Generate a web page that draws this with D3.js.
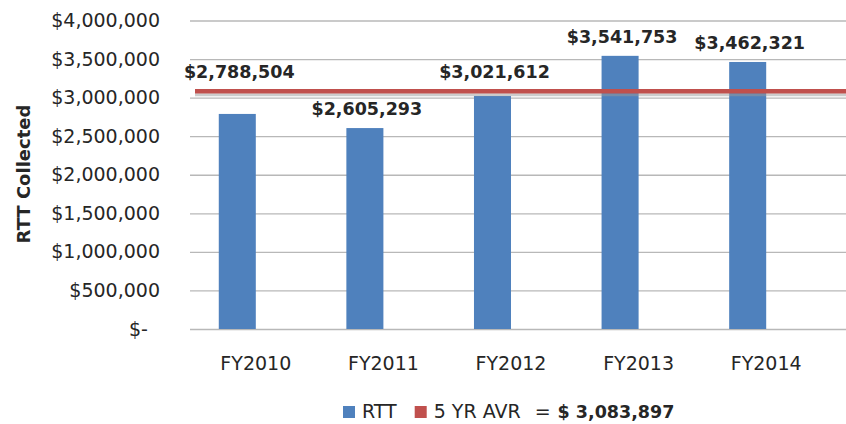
<!DOCTYPE html>
<head>
<style>
	body{
		margin: 0;
		background: white;
	}
	svg{
		display: block;
	}
	text{
		font-family: "DejaVu Sans", sans-serif;
		fill: #262626;
	}
</style>
</head>
<body>
<script src="https://cdnjs.cloudflare.com/ajax/libs/d3/7.8.5/d3.min.js" charset="utf-8"></script>
<svg width="846" height="424"></svg>
<script>
	// values
	var years = ["FY2010","FY2011","FY2012","FY2013","FY2014"];
	var rtt = [2788504, 2605293, 3021612, 3541753, 3462321];
	var seriesNames = ["RTT","5 YR AVR"];
	var yTicks = [0, 500000, 1000000, 1500000, 2000000, 2500000, 3000000, 3500000, 4000000];
	var avgValue = Math.round(d3.mean(rtt));

	var W = 846, H = 424;
	var plotL = 190, plotR = 846, plotT = 20.5, plotB = 329;
	var blue = "#4f81bd", red = "#c0504d";

	var svg = d3.select("svg");

	var y = d3.scaleLinear()
		.domain([0, 4000000])
		.range([plotB, plotT]);

	var x = d3.scaleBand()
		.domain(years)
		.range([192, 830]);

	// clustered slot: RTT bar sits left, the second (line) series keeps an empty slot
	var xs = d3.scaleBand()
		.domain(seriesNames)
		.range([0, x.bandwidth()])
		.paddingOuter(0.723);

	var money = d3.format(",");

	// y axis + gridlines
	var yAxis = d3.axisLeft(y)
		.tickValues(yTicks)
		.tickSizeInner(-(plotR - plotL))
		.tickSizeOuter(0)
		.tickPadding(30)
		.tickFormat(function(v){ return v === 0 ? "$-\u00a0\u00a0" : "$" + money(v); });

	var gy = svg.append("g")
		.attr("transform","translate(" + plotL + ",0)")
		.call(yAxis);
	gy.select(".domain").remove();
	gy.selectAll("line").attr("stroke","#b8b8b8").attr("stroke-width",1.3);
	gy.selectAll("text")
		.style("font-size","19px")
		.attr("fill","#262626");

	// bars
	svg.append("g").selectAll("rect")
		.data(rtt)
		.join("rect")
		.attr("x", function(d,i){ return x(years[i]) + xs("RTT"); })
		.attr("y", function(d){ return y(d); })
		.attr("width", xs.bandwidth())
		.attr("height", function(d){ return y(0) - y(d); })
		.attr("fill", blue);

	// average line with a soft shadow
	var avgY = y(avgValue);
	svg.append("line")
		.attr("x1",195).attr("x2",W)
		.attr("y1",avgY + 3.5).attr("y2",avgY + 3.5)
		.attr("stroke","#9a9a9a")
		.attr("stroke-opacity",0.5)
		.attr("stroke-width",3);
	svg.append("line")
		.attr("x1",195).attr("x2",W)
		.attr("y1",avgY).attr("y2",avgY)
		.attr("stroke",red)
		.attr("stroke-width",4.5);

	// data labels, lifted above the average line where they would cross it
	svg.append("g").selectAll("text")
		.data(rtt)
		.join("text")
		.attr("x", function(d,i){ return x(years[i]) + xs("RTT") + xs.bandwidth()/2 + 2; })
		.attr("y", function(d){
			var b = y(d) - 13;
			if(b + 4 > avgY - 5 && b - 14 < avgY + 5) b = avgY - 13.5;
			return b;
		})
		.attr("text-anchor","middle")
		.style("font-size","17.5px")
		.style("font-weight","bold")
		.attr("fill","#0d0d0d")
		.text(function(d){ return "$" + money(d); });

	// category labels
	svg.append("g").selectAll("text")
		.data(years)
		.join("text")
		.attr("x", function(d){ return x(d) + x.bandwidth()/2; })
		.attr("y", 370)
		.attr("text-anchor","middle")
		.style("font-size","19px")
		.text(function(d){ return d; });

	// axis title
	svg.append("text")
		.attr("transform","translate(30,174) rotate(-90)")
		.attr("text-anchor","middle")
		.style("font-size","18px")
		.style("font-weight","bold")
		.attr("fill","#0d0d0d")
		.text("RTT Collected");

	// legend
	var lg = svg.append("g");
	var lx = 343, ly = 418;
	seriesNames.forEach(function(name,i){
		lg.append("rect")
			.attr("x",lx).attr("y",ly - 12)
			.attr("width",12).attr("height",12)
			.attr("fill", i === 0 ? blue : red);
		var t = lg.append("text")
			.attr("x",lx + 19).attr("y",ly)
			.style("font-size","19px")
			.text(name);
		lx += 19 + t.node().getComputedTextLength() + 18;
	});
	lx -= 4;
	var eq = lg.append("text")
		.attr("x",lx).attr("y",ly)
		.style("font-size","19px")
		.text("=");
	lx += eq.node().getComputedTextLength() + 7;
	lg.append("text")
		.attr("x",lx).attr("y",ly)
		.style("font-size","17.5px")
		.style("font-weight","bold")
		.attr("fill","#0d0d0d")
		.text("$ " + money(avgValue));
</script>
</body>
</html>
